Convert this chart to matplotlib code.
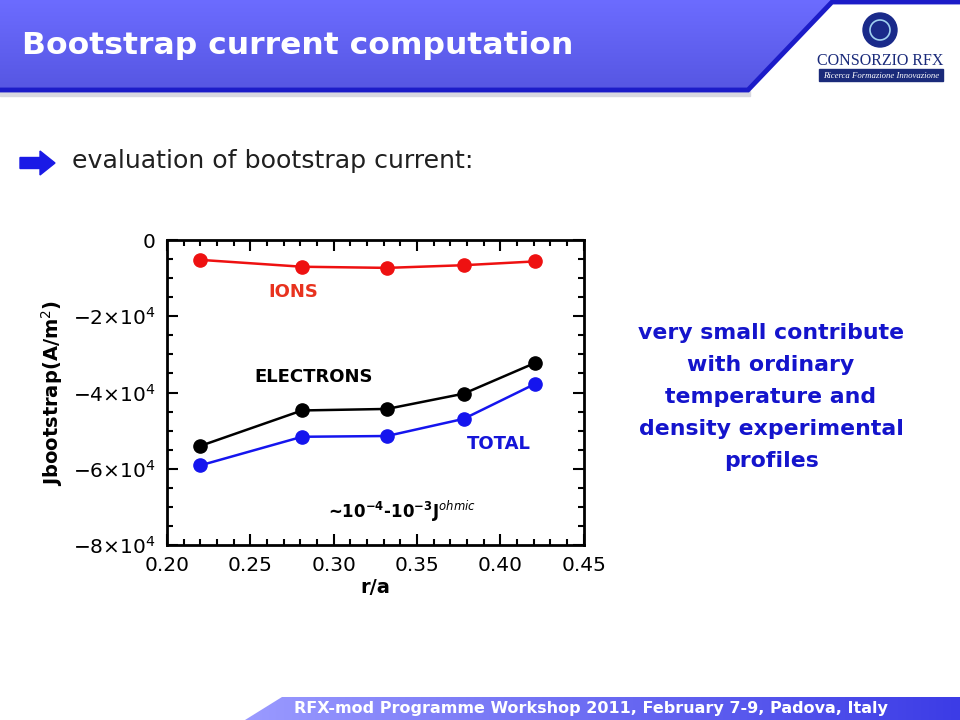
import matplotlib
matplotlib.use("Agg")
import matplotlib.pyplot as plt
import numpy as np
from matplotlib.patches import Polygon, Circle, Rectangle, FancyArrow

# Data
r_a = [0.22, 0.281, 0.332, 0.378, 0.421]
ions = [-0.52e4, -0.70e4, -0.73e4, -0.66e4, -0.56e4]
electrons = [-5.40e4, -4.47e4, -4.43e4, -4.03e4, -3.22e4]
total = [-5.91e4, -5.16e4, -5.14e4, -4.69e4, -3.77e4]

x_ticks = [0.20, 0.25, 0.30, 0.35, 0.40, 0.45]
x_tick_labels = ['0.20', '0.25', '0.30', '0.35', '0.40', '0.45']
y_ticks = [0, -2e4, -4e4, -6e4, -8e4]
y_tick_labels = ['0', r'$-2{\times}10^4$', r'$-4{\times}10^4$', r'$-6{\times}10^4$', r'$-8{\times}10^4$']

plt.rcParams['font.family'] = ['DejaVu Sans']
plt.rcParams['mathtext.fontset'] = 'dejavusans'

fig = plt.figure(figsize=(9.6, 7.2), dpi=100)

# slide background drawn in pixel coordinates
bg = fig.add_axes([0, 0, 1, 1], zorder=0)
bg.set_xlim(0, 960)
bg.set_ylim(720, 0)
bg.axis('off')

def gradient(poly, c_start, c_end, horizontal=False):
    patch = Polygon(poly, closed=True, facecolor='none', edgecolor='none')
    bg.add_patch(patch)
    c0 = np.array(matplotlib.colors.to_rgb(c_start))
    c1 = np.array(matplotlib.colors.to_rgb(c_end))
    t = np.linspace(0, 1, 256)
    img = c0[None, :] * (1 - t[:, None]) + c1[None, :] * t[:, None]
    xs = [p[0] for p in poly]
    ys = [p[1] for p in poly]
    if horizontal:
        img = img[None, :, :]
    else:
        img = img[:, None, :]
    im = bg.imshow(img, extent=(min(xs), max(xs), max(ys), min(ys)), aspect='auto', zorder=1)
    im.set_clip_path(patch)

# header band
gradient([(0, 0), (832, 0), (748, 90), (0, 90)], '#6c6cff', '#5656e2')
bg.add_patch(Rectangle((0, 91), 750, 5, color='#d8d8e0', zorder=1))
bg.plot([0, 748, 832, 960], [90, 90, 2, 2], color='#1c1cc8', lw=3.5, solid_joinstyle='miter', zorder=2)
bg.text(22, 46, 'Bootstrap current computation', color='white', fontsize=22.6,
        fontweight='bold', va='center', ha='left', zorder=3)

# logo
bg.add_patch(Circle((880, 30), 17, color='#1a2a8a', zorder=2))
bg.add_patch(Circle((880, 30), 10, facecolor='none', edgecolor='#9fd0f0', lw=1.2, zorder=3))
bg.text(880, 61, 'CONSORZIO RFX', family='Liberation Serif', fontsize=11.5, color='#1a2a7a',
        ha='center', va='center', zorder=3)
bg.add_patch(Rectangle((819, 69), 124, 12, color='#1a2a7a', zorder=2))
bg.text(881, 75.5, 'Ricerca Formazione Innovazione', family='Liberation Serif', style='italic',
        fontsize=6.3, color='white', ha='center', va='center', zorder=3)

# footer band
gradient([(245, 720), (282, 697), (960, 697), (960, 720)], '#9a9aff', '#3c3ce6', horizontal=True)
bg.text(591, 709, 'RFX-mod Programme Workshop 2011, February 7-9, Padova, Italy', color='white',
        fontsize=11.5, fontweight='bold', ha='center', va='center', zorder=3)

# bullet
bg.add_patch(FancyArrow(20, 163, 20, 0, width=11, head_width=24, head_length=15,
                        length_includes_head=False, color='#1a1ae6', zorder=2))
bg.text(72, 161, 'evaluation of bootstrap current:', fontsize=18.2, color='#202020',
        ha='left', va='center', zorder=3)

# right comment
bg.text(771, 397, 'very small contribute\nwith ordinary\ntemperature and\ndensity experimental\nprofiles',
        color='#1414cc', fontsize=15.8, fontweight='bold', ha='center', va='center',
        linespacing=1.74, zorder=3)

# chart
ax = fig.add_axes([0.174, 0.243, 0.434, 0.4236], zorder=2)
ax.plot(r_a, ions, color='#ee1111', lw=1.8, marker='o', markersize=9.5)
ax.plot(r_a, electrons, color='black', lw=1.8, marker='o', markersize=9.5)
ax.plot(r_a, total, color='#1515ee', lw=1.8, marker='o', markersize=9.5)

ax.set_xlim(0.20, 0.45)
ax.set_ylim(-8e4, 0)
ax.set_xticks(x_ticks)
ax.set_xticklabels(x_tick_labels)
ax.set_yticks(y_ticks)
ax.set_yticklabels(y_tick_labels)
ax.set_xticks(np.arange(0.20, 0.451, 0.01), minor=True)
ax.set_yticks(np.arange(-8e4, 1, 0.5e4), minor=True)
ax.tick_params(which='both', direction='in', top=True, right=True, width=1.5)
ax.tick_params(which='major', length=8, labelsize=14.5, pad=8)
ax.tick_params(which='minor', length=4)
for s in ax.spines.values():
    s.set_linewidth(2)

ax.set_xlabel('r/a', fontsize=14, fontweight='bold', labelpad=2)
ax.set_ylabel(r'Jbootstrap(A/m$^2$)', fontsize=14, fontweight='bold', labelpad=6)

ax.text(0.276, -1.35e4, 'IONS', color='#e8321e', fontsize=13, fontweight='bold', ha='center', va='center')
ax.text(0.288, -3.58e4, 'ELECTRONS', color='black', fontsize=13, fontweight='bold', ha='center', va='center')
ax.text(0.399, -5.36e4, 'TOTAL', color='#1515d8', fontsize=13, fontweight='bold', ha='center', va='center')
ax.text(0.341, -7.12e4, r'~10$^{\mathbf{-4}}$-10$^{\mathbf{-3}}$J$^{ohmic}$', color='black', fontsize=12,
        fontweight='bold', ha='center', va='center')

fig.savefig('out.png', dpi=100)
